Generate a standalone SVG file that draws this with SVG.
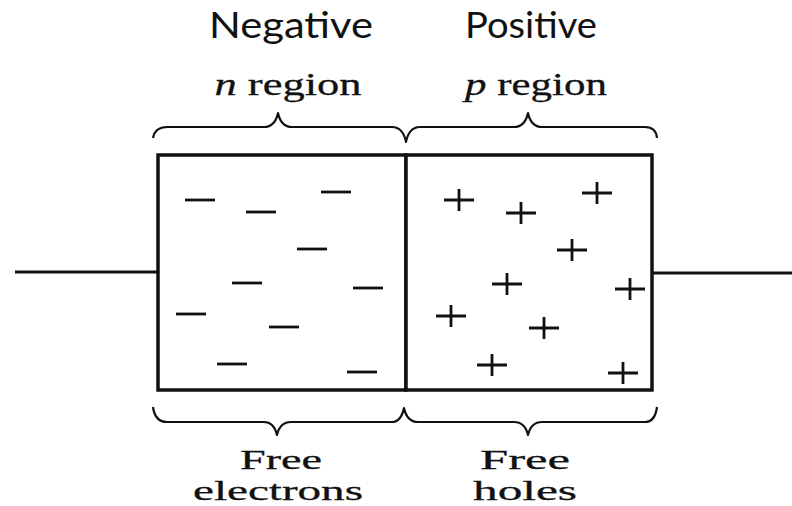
<svg xmlns="http://www.w3.org/2000/svg" width="792" height="506" viewBox="0 0 792 506">
<style>
.sans{font-family:Lato,"Open Sans","Liberation Sans",sans-serif;font-size:36px;fill:#111;text-anchor:middle}
.serif{font-family:"Liberation Serif","Times New Roman",serif;font-size:32px;fill:#111;stroke:#111;stroke-width:0.3;text-anchor:middle}
.lbl{font-size:28px}
.box{fill:#fff;stroke:#111;stroke-width:3.5}
.sign{stroke:#111;stroke-width:2.8;stroke-linecap:butt;fill:none}
.brace{fill:none;stroke:#111;stroke-width:2.2;stroke-linejoin:round}
.lead{stroke:#111;stroke-width:2.8}
</style>
<defs>
<path id="minus" d="M-15,0H15" class="sign"/>
<path id="plus" d="M-15,0H15M0,-11V11" class="sign"/>
</defs>
<rect width="792" height="506" fill="#fff"/>

<g id="labels-top">
<text class="sans" x="291" y="38" textLength="164" lengthAdjust="spacingAndGlyphs">Negative</text>
<text class="sans" x="531" y="38" textLength="132" lengthAdjust="spacingAndGlyphs">Positive</text>
<text class="serif" x="288" y="95" textLength="147" lengthAdjust="spacingAndGlyphs"><tspan font-style="italic">n</tspan> region</text>
<text class="serif" x="536" y="95" textLength="142" lengthAdjust="spacingAndGlyphs"><tspan font-style="italic">p</tspan> region</text>
</g>

<g id="braces">
<path class="brace" d="M153,138 Q155,127 167,127 L264,127 Q275,127 278,113 Q281,127 292,127 L392,127 Q403,127 406,142 Q409,127 420,127 L514,127 Q525,127 528,113 Q531,127 542,127 L645,127 Q656,127 657,138"/>
<path class="brace" d="M153,407 Q155,422 167,422 L264,422 Q274,422 277,435 Q280,422 291,422 L392,422 Q401,422 404,408 Q407,422 418,422 L514,422 Q525,422 528,435 Q531,422 542,422 L645,422 Q655,422 657,407"/>
</g>

<g id="connectors">
<line class="lead" x1="15" y1="272" x2="158" y2="272"/>
<line class="lead" x1="652" y1="273" x2="792" y2="273"/>
</g>

<g id="n-region">
<rect class="box" x="158" y="155" width="248" height="235"/>
<use href="#minus" x="200" y="200"/>
<use href="#minus" x="261" y="212"/>
<use href="#minus" x="336" y="192"/>
<use href="#minus" x="312" y="249"/>
<use href="#minus" x="247" y="283"/>
<use href="#minus" x="368" y="288"/>
<use href="#minus" x="191" y="314"/>
<use href="#minus" x="284" y="327"/>
<use href="#minus" x="232" y="364"/>
<use href="#minus" x="362" y="372"/>
</g>

<g id="p-region">
<rect class="box" x="406" y="155" width="246" height="235"/>
<use href="#plus" x="459" y="200"/>
<use href="#plus" x="521" y="213"/>
<use href="#plus" x="597" y="193"/>
<use href="#plus" x="572" y="250"/>
<use href="#plus" x="507" y="284"/>
<use href="#plus" x="630" y="289"/>
<use href="#plus" x="451" y="316"/>
<use href="#plus" x="544" y="328"/>
<use href="#plus" x="492" y="365"/>
<use href="#plus" x="623" y="373"/>
</g>

<g id="labels-bottom">
<text class="serif lbl" x="281" y="469" textLength="82" lengthAdjust="spacingAndGlyphs">Free</text>
<text class="serif lbl" x="278" y="500" textLength="170" lengthAdjust="spacingAndGlyphs">electrons</text>
<text class="serif lbl" x="525" y="469" textLength="90" lengthAdjust="spacingAndGlyphs">Free</text>
<text class="serif lbl" x="525" y="500" textLength="104" lengthAdjust="spacingAndGlyphs">holes</text>
</g>
</svg>
